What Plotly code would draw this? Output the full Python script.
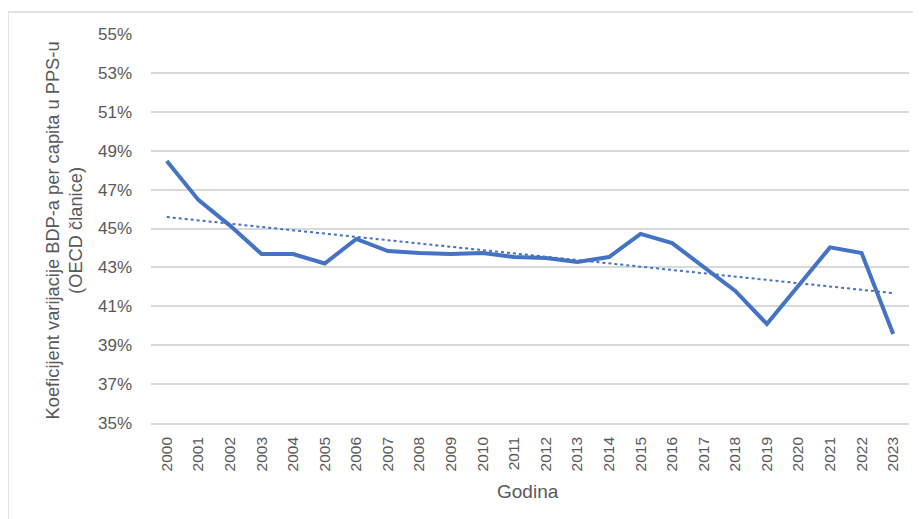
import numpy as np
import plotly.graph_objects as go

years = [str(y) for y in range(2000, 2024)]
cv = [48.47, 46.47, 45.15, 43.69, 43.69, 43.2, 44.46, 43.84, 43.74, 43.69,
      43.74, 43.53, 43.48, 43.28, 43.53, 44.72, 44.25, 43.02, 41.79, 40.09,
      42.04, 44.03, 43.74, 39.58]
cv = [v / 100 for v in cv]

BLUE = "#4472C4"
GREY = "#595959"
LIGHT = "#d9d9d9"
FONT = "Liberation Sans"

# linear trendline (like Excel's)
idx = np.arange(len(cv))
slope, icept = np.polyfit(idx, cv, 1)
trend = slope * idx + icept

fig = go.Figure()
fig.add_trace(go.Scatter(x=years, y=cv, mode="lines", line=dict(color=BLUE, width=4),
                         showlegend=False))
fig.add_trace(go.Scatter(x=years, y=trend, mode="lines",
                         line=dict(color=BLUE, width=2, dash="dot"), showlegend=False))

# page body adds an 8px offset, margins compensate for it
fig.update_layout(
    width=921, height=519,
    margin=dict(l=143, r=20, t=26, b=104),
    plot_bgcolor="white", paper_bgcolor="white",
    font=dict(family=FONT, color=GREY, size=15),
    xaxis=dict(
        type="category", range=[-0.5, len(years) - 0.5], tickangle=-90,
        showgrid=False, showline=True, linecolor=LIGHT, linewidth=1.5,
        tickfont=dict(size=15.5, color=GREY), ticks="", ticklabelstandoff=6,
        automargin=False,
    ),
    yaxis=dict(
        range=[0.35, 0.55], dtick=0.02, tick0=0.35, tickformat=".0%",
        showgrid=True, gridcolor=LIGHT, gridwidth=1.5, zeroline=False,
        tickfont=dict(size=17, color=GREY), ticks="", ticklabelstandoff=18,
        automargin=False,
    ),
    annotations=[
        dict(text="Koeficijent varijacije BDP-a per capita u PPS-u<br>(OECD članice)",
             xref="paper", yref="paper", x=-0.1148, y=0.495, xanchor="center", yanchor="middle",
             textangle=-90, showarrow=False, font=dict(size=18.3, color=GREY)),
        dict(text="Godina", xref="paper", yref="paper", x=0.497, y=-0.175,
             xanchor="center", yanchor="middle", showarrow=False,
             font=dict(size=19, color=GREY)),
    ],
    shapes=[
        dict(type="line", xref="paper", yref="paper", x0=-0.1887, x1=1.05, y0=1.0566, y1=1.0566,
             line=dict(color=LIGHT, width=1.5)),
        dict(type="line", xref="paper", yref="paper", x0=-0.1887, x1=-0.1887, y0=1.0566, y1=-0.3,
             line=dict(color=LIGHT, width=1.5)),
    ],
)

fig.write_html("out.html")
